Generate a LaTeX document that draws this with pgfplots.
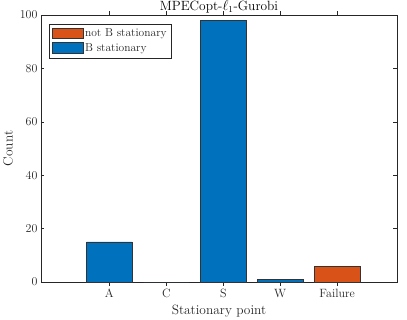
\documentclass[border=0pt]{standalone}
\usepackage{fontspec}
\usepackage{pgfplots}
\pgfplotsset{compat=1.18}
\usetikzlibrary{calc}
\definecolor{mblue}{rgb}{0,0.447,0.741}
\definecolor{morange}{rgb}{0.85,0.325,0.098}
\definecolor{axgray}{rgb}{0.15,0.15,0.15}
\begin{document}
\begin{tikzpicture}
\begin{axis}[
 scale only axis, width=356pt, height=267pt,
 xmin=-0.2, xmax=6.05, ymin=0, ymax=100,
 xtick={1,2,3,4,5}, xticklabels={A,C,S,W,Failure},
 ytick={0,20,40,60,80,100},
 tick align=inside, major tick length=3.5pt,
 axis line style={axgray, line width=0.5pt},
 tick style={axgray, line width=0.5pt},
 ticklabel style={font=\fontsize{12}{14}\selectfont, text=axgray},
 xlabel={Stationary point}, ylabel={Count},
 label style={font=\fontsize{13.4}{16}\selectfont, text=axgray},
 title={MPECopt-$\ell_1$-Gurobi},
 every axis title/.style={font=\fontsize{13.4}{16}\selectfont, text=black, at={(0.5,1)}, anchor=base, yshift=4.5pt},
 ybar, bar width=0.8, bar shift=0pt,
 legend cell align=left,
 legend style={at={(0.022,0.967)}, anchor=north west, font=\fontsize{11.5}{13}\selectfont, draw=axgray, text=axgray, inner xsep=2.5pt, inner ysep=3pt, row sep=1pt},
 legend image code/.code={\draw[#1] (0pt,-5pt) rectangle (31pt,5.5pt);},
]
\addplot[fill=morange, draw=black!80, line width=0.5pt] coordinates {(5,6)};
\addlegendentry{not B stationary}
\addplot[fill=mblue, draw=black!80, line width=0.5pt] coordinates {(1,15) (2,0) (3,98) (4,1)};
\addlegendentry{B stationary}
\end{axis}
\pgfresetboundingbox
\path ($(current axis.south west)+(-41pt,-37pt)$) rectangle ($(current axis.north east)+(10pt,15pt)$);
\end{tikzpicture}
\end{document}
